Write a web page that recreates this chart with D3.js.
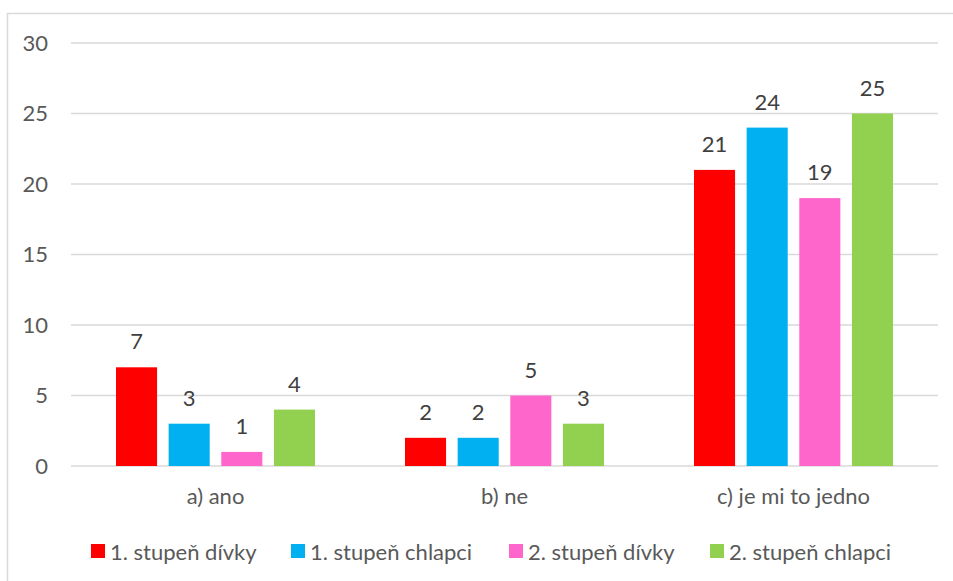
<!DOCTYPE html>
<html>
<head>
<meta charset="utf-8">
<script src="https://cdn.jsdelivr.net/npm/d3@7/dist/d3.min.js"></script>
<style>
  html, body { margin: 0; padding: 0; background: #fff; }
  svg { display: block; }
  text { font-family: Lato, "Open Sans", sans-serif; }
</style>
</head>
<body>
<svg id="chart" width="953" height="581"></svg>
<script>
// Answers by group
const categories = ["a) ano", "b) ne", "c) je mi to jedno"];
const seriesNames = ["1. stupeň dívky", "1. stupeň chlapci", "2. stupeň dívky", "2. stupeň chlapci"];
const girls1 = [7, 2, 21];
const boys1 = [3, 2, 24];
const girls2 = [1, 5, 19];
const boys2 = [4, 3, 25];
const yTicks = [0, 5, 10, 15, 20, 25, 30];
const colors = ["#FF0000", "#00B0F0", "#FF66CC", "#92D050"];

const seriesValues = [girls1, boys1, girls2, boys2];

const svg = d3.select("#chart");
const W = 953, H = 581;
const fontSize = 22;

// chart frame (extends past the right and bottom edges)
svg.append("rect")
  .attr("x", 7.5).attr("y", 13.5)
  .attr("width", W).attr("height", H)
  .attr("fill", "#fff")
  .attr("stroke", "#D9D9D9")
  .attr("stroke-width", 1.5);

const plot = { left: 71, right: 938, top: 43, bottom: 466 };

const y = d3.scaleLinear().domain([0, 30]).range([plot.bottom, plot.top]);
const x0 = d3.scaleBand().domain(categories).range([plot.left, plot.right]).padding(0);
const groupPad = 45;
const x1 = d3.scaleBand().domain(d3.range(seriesNames.length))
  .range([groupPad, x0.bandwidth() - groupPad]).paddingInner(0.22).paddingOuter(0);

// gridlines
svg.append("g")
  .selectAll("line")
  .data(yTicks)
  .join("line")
  .attr("x1", plot.left).attr("x2", plot.right)
  .attr("y1", d => y(d)).attr("y2", d => y(d))
  .attr("stroke", "#D9D9D9")
  .attr("stroke-width", 1.3);

// y axis labels
const yAxis = d3.axisLeft(y).tickValues(yTicks).tickSize(0).tickPadding(23);
const gy = svg.append("g").attr("transform", `translate(${plot.left},0)`).call(yAxis);
gy.select(".domain").remove();
gy.selectAll("text")
  .attr("fill", "#595959")
  .style("font-size", fontSize + "px")
  .style("font-family", "Lato, 'Open Sans', sans-serif");

// x axis labels
const xAxis = d3.axisBottom(x0).tickSize(0).tickPadding(22);
const gx = svg.append("g").attr("transform", `translate(0,${plot.bottom})`).call(xAxis);
gx.select(".domain").remove();
gx.selectAll("text")
  .attr("fill", "#595959")
  .style("font-size", fontSize + "px")
  .style("font-family", "Lato, 'Open Sans', sans-serif");

// bars
const rows = [];
categories.forEach((c, ci) => {
  seriesValues.forEach((vals, si) => rows.push({ c, si, v: vals[ci] }));
});

const bars = svg.append("g");
bars.selectAll("rect")
  .data(rows)
  .join("rect")
  .attr("x", d => x0(d.c) + x1(d.si))
  .attr("width", x1.bandwidth())
  .attr("y", d => y(d.v))
  .attr("height", d => y(0) - y(d.v))
  .attr("fill", d => colors[d.si]);

// value labels
bars.selectAll("text")
  .data(rows)
  .join("text")
  .attr("x", d => x0(d.c) + x1(d.si) + x1.bandwidth() / 2)
  .attr("y", d => y(d.v) - 18)
  .attr("text-anchor", "middle")
  .attr("fill", "#404040")
  .style("font-size", fontSize + "px")
  .text(d => d.v);

// legend
const legendX = [91, 291, 509, 710];
const lg = svg.append("g");
const item = lg.selectAll("g")
  .data(seriesNames)
  .join("g")
  .attr("transform", (d, i) => `translate(${legendX[i]},544)`);
item.append("rect")
  .attr("width", 14).attr("height", 14)
  .attr("fill", (d, i) => colors[i]);
item.append("text")
  .attr("x", 19).attr("y", 7)
  .attr("dominant-baseline", "central")
  .attr("fill", "#595959")
  .style("font-size", fontSize + "px")
  .text(d => d);
</script>
</body>
</html>
